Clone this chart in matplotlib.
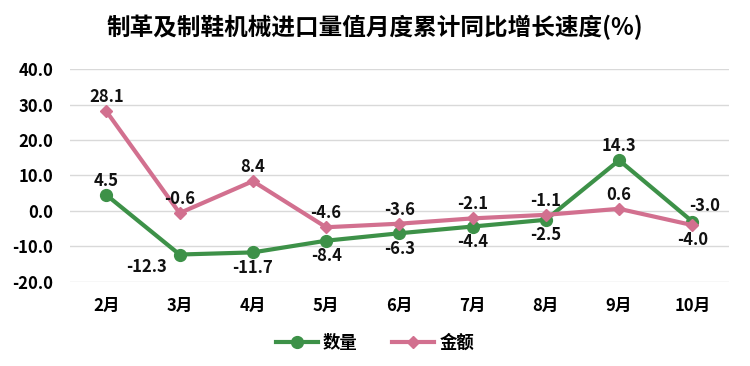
import matplotlib.pyplot as plt
import numpy as np

plt.rcParams['font.family'] = ['Noto Sans CJK SC', 'DejaVu Sans']

months = ['2月', '3月', '4月', '5月', '6月', '7月', '8月', '9月', '10月']
quantity = [4.5, -12.3, -11.7, -8.4, -6.3, -4.4, -2.5, 14.3, -3.0]
amount = [28.1, -0.6, 8.4, -4.6, -3.6, -2.1, -1.1, 0.6, -4.0]

# label offsets in points (dx, dy)
q_off = [(0, 10), (-24, -9), (0, -11), (0, -11), (0, -11), (0, -11), (0, -11), (0, 10), (9, 11)]
a_off = [(0, 10), (0, 10), (0, 10), (0, 10), (0, 10), (0, 10), (0, 10), (0, 10), (0, -11)]

green = '#3d9148'
pink = '#d2708f'

fig = plt.figure(figsize=(7.5, 3.66), dpi=100)
ax = fig.add_axes([0.093, 0.23, 0.879, 0.581])

x = np.arange(len(months))
ax.plot(x, quantity, color=green, lw=3, marker='o', ms=8.5, label='数量', zorder=3)
ax.plot(x, amount, color=pink, lw=3, marker='D', ms=6, label='金额', zorder=3)

for i in x:
    dx, dy = q_off[i]
    ax.annotate(f'{quantity[i]:.1f}', (i, quantity[i]), xytext=(dx, dy), textcoords='offset points',
                ha='center', va='center', fontsize=12, fontweight='bold', color='#111111')
    dx, dy = a_off[i]
    ax.annotate(f'{amount[i]:.1f}', (i, amount[i]), xytext=(dx, dy), textcoords='offset points',
                ha='center', va='center', fontsize=12, fontweight='bold', color='#111111')

ax.set_xlim(-0.5, len(months) - 0.5)
ax.set_ylim(-20, 40)
ax.set_yticks(range(-20, 41, 10))
ax.set_yticklabels([f'{v:.1f}' for v in range(-20, 41, 10)])
ax.set_xticks(x)
ax.set_xticklabels(months)
ax.grid(axis='y', color='#d9d9d9', lw=1)
ax.set_axisbelow(True)
for s in ax.spines.values():
    s.set_visible(False)
ax.tick_params(length=0, labelsize=12)
ax.tick_params(axis='x', pad=11)
ax.tick_params(axis='y', pad=12)
for lab in ax.get_xticklabels() + ax.get_yticklabels():
    lab.set_fontweight('bold')

fig.suptitle('制革及制鞋机械进口量值月度累计同比增长速度(%)', y=0.96, fontsize=17, fontweight='bold')
fig.legend(loc='center', bbox_to_anchor=(0.5, 0.063), ncol=2, frameon=False,
           prop={'size': 12.5, 'weight': 'bold'}, handlelength=2.4, columnspacing=2.0, handletextpad=0.3)

fig.savefig('out.png', dpi=100)
